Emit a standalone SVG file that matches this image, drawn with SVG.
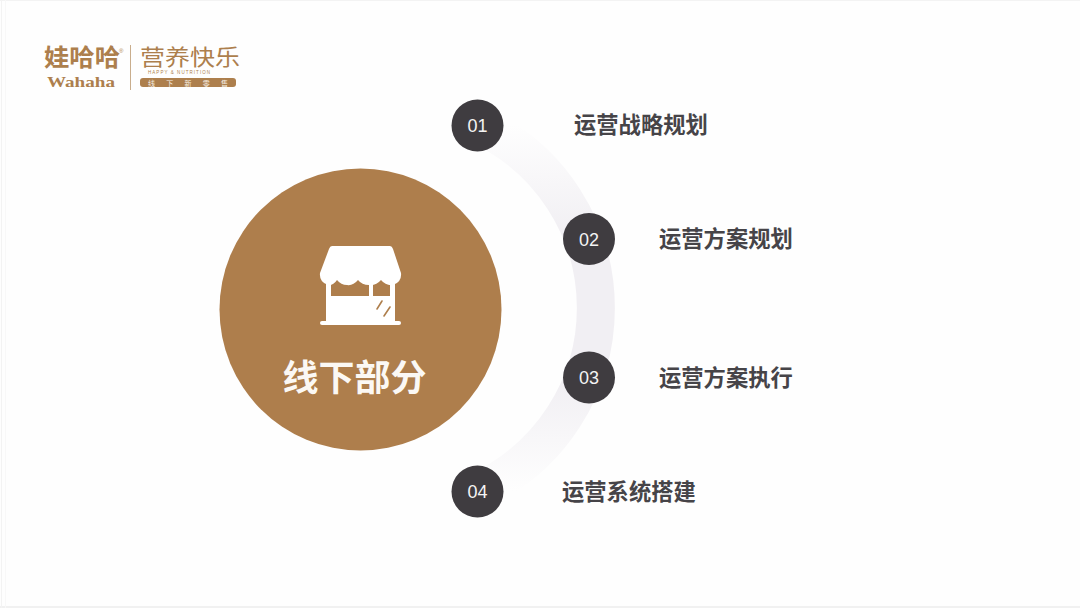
<svg xmlns="http://www.w3.org/2000/svg" width="1080" height="608" viewBox="0 0 1080 608">
<style>
.cjk{font-family:"Noto Sans CJK SC","Noto Sans",sans-serif}
.label{font-size:22.300px;font-weight:700;fill:#464448;text-anchor:start}
.num{font-family:"Liberation Sans",Arial,sans-serif;font-size:18px;fill:#f4f4f4;text-anchor:middle}
.dot{fill:#3f3c40}
.logo{fill:#ad7f4d}
</style>
<defs>
<linearGradient id="arcFade" gradientUnits="userSpaceOnUse" x1="0" y1="125" x2="0" y2="491">
<stop offset="0" stop-color="#f1eff3" stop-opacity="0"/>
<stop offset="0.3" stop-color="#f1eff3"/>
<stop offset="0.7" stop-color="#f1eff3"/>
<stop offset="1" stop-color="#f1eff3" stop-opacity="0"/>
</linearGradient>
</defs>
<rect width="1080" height="608" fill="#fefefe"/>
<rect x="0" y="0" width="1080" height="1" fill="#f3f3f3"/>
<rect x="0" y="606" width="1080" height="2" fill="#f1f1f1"/>
<rect x="1" y="0" width="1" height="608" fill="#f3f3f3"/>
<rect x="5" y="0" width="1" height="608" fill="#f8f8f8"/>
<g id="logo">
<text class="cjk logo" x="44" y="66" font-size="24" font-weight="700" textLength="76" lengthAdjust="spacingAndGlyphs">娃哈哈</text>
<text class="logo" x="47" y="87" font-family="Liberation Serif,serif" font-size="15" font-weight="700" textLength="68" lengthAdjust="spacingAndGlyphs">Wahaha</text>
<text class="logo" x="119" y="53" font-family="Liberation Sans,sans-serif" font-size="6">®</text>
<rect x="130" y="45" width="1" height="45" fill="#c9ad8c"/>
<text class="cjk logo" x="140" y="65" font-size="22" textLength="100" lengthAdjust="spacingAndGlyphs">营养快乐</text>
<text class="logo" x="148" y="74" font-family="Liberation Sans,sans-serif" font-size="4.500" textLength="62" lengthAdjust="spacing">HAPPY &amp; NUTRITION</text>
<rect x="140" y="78" width="96" height="9" rx="3" fill="#ad7f4d"/>
<text class="cjk" x="148" y="85.500" font-size="7" fill="#f7efe6" textLength="80" lengthAdjust="spacing">线下新零售</text>
</g>
<g id="connectors">
<path d="M478 125A201 201 0 0 1 478 491" fill="none" stroke="url(#arcFade)" stroke-width="38"/>
</g>
<g id="center">
<circle cx="360.500" cy="309.500" r="141" fill="#ae7e4c"/>
<g id="store-icon" fill="#fff">
<rect x="326" y="278" width="69" height="43"/>
<rect x="331" y="280" width="38" height="16" fill="#ae7e4c"/>
<rect x="373" y="280" width="17" height="16" fill="#ae7e4c"/>
<path d="M332 246H390Q392 246 393 249L401 273Q402 282 393 285Q386 286 381 280Q376 286 369 285Q362 285 358 280Q353 286 347 285Q341 285 337 280Q333 286 328 285Q319 282 320 273L329 249Q330 246 332 246Z"/>
<rect x="320" y="321" width="81" height="4" rx="2"/>
<g stroke="#ae7e4c" stroke-width="1.600" stroke-linecap="round">
<line x1="377" y1="309" x2="382" y2="301"/>
<line x1="384" y1="316" x2="390" y2="307"/>
</g>
</g>
<text class="cjk" x="354.500" y="391" font-size="36" font-weight="700" fill="#fbf8f4" text-anchor="middle">线下部分</text>
</g>
<g id="node-01"><circle class="dot" cx="477.500" cy="125.500" r="26"/><text class="num" x="477.500" y="132">01</text><text class="cjk label" x="574" y="133">运营战略规划</text></g>
<g id="node-02"><circle class="dot" cx="589" cy="239" r="26"/><text class="num" x="589" y="245.500">02</text><text class="cjk label" x="659" y="247">运营方案规划</text></g>
<g id="node-03"><circle class="dot" cx="589" cy="377.500" r="26"/><text class="num" x="589" y="384">03</text><text class="cjk label" x="659" y="386">运营方案执行</text></g>
<g id="node-04"><circle class="dot" cx="477.500" cy="491.500" r="26"/><text class="num" x="477.500" y="498">04</text><text class="cjk label" x="562" y="500">运营系统搭建</text></g>
</svg>
